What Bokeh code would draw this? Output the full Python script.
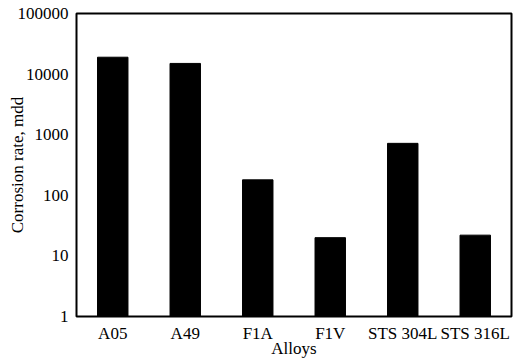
from bokeh.plotting import figure
from bokeh.models import FixedTicker, PrintfTickFormatter, ColumnDataSource
from bokeh.embed import file_html
from bokeh.resources import INLINE

alloys = ["A05", "A49", "F1A", "F1V", "STS 304L", "STS 316L"]
corrosion_rate = [19000, 15000, 180, 20, 720, 22]
y_ticks = [1, 10, 100, 1000, 10000, 100000]
x_title = "Alloys"
y_title = "Corrosion rate, mdd"

FONT = "Liberation Serif"

src = ColumnDataSource(dict(alloy=alloys, rate=corrosion_rate))

p = figure(
    x_range=alloys, y_range=(1, 100000), y_axis_type="log",
    width=517, height=360, output_backend="svg", toolbar_location=None,
    min_border_left=76, min_border_right=6, min_border_top=13, min_border_bottom=43,
)
p.vbar(x="alloy", top="rate", bottom=1, width=0.42, source=src,
       fill_color="black", line_color="black")

p.grid.visible = False
p.outline_line_color = "black"
p.outline_line_width = 2
p.background_fill_color = "white"
p.border_fill_color = "white"

for ax in (p.xaxis[0], p.yaxis[0]):
    ax.axis_line_color = None
    ax.major_tick_line_color = None
    ax.minor_tick_line_color = None
    ax.major_tick_in = 0
    ax.major_tick_out = 0
    ax.major_label_text_font = FONT
    ax.major_label_text_font_size = "17px"
    ax.major_label_text_color = "black"
    ax.axis_label_text_font = FONT
    ax.axis_label_text_font_size = "17px"
    ax.axis_label_text_font_style = "normal"
    ax.axis_label_text_color = "black"

p.yaxis[0].ticker = FixedTicker(ticks=y_ticks, minor_ticks=[])
p.yaxis[0].formatter = PrintfTickFormatter(format="%d")
p.yaxis[0].major_label_standoff = 8
p.yaxis[0].axis_label = y_title
p.yaxis[0].axis_label_standoff = -12

p.xaxis[0].major_label_standoff = 7
p.xaxis[0].axis_label = x_title
p.xaxis[0].axis_label_standoff = -7

open("out.html", "w").write(file_html(p, INLINE))
